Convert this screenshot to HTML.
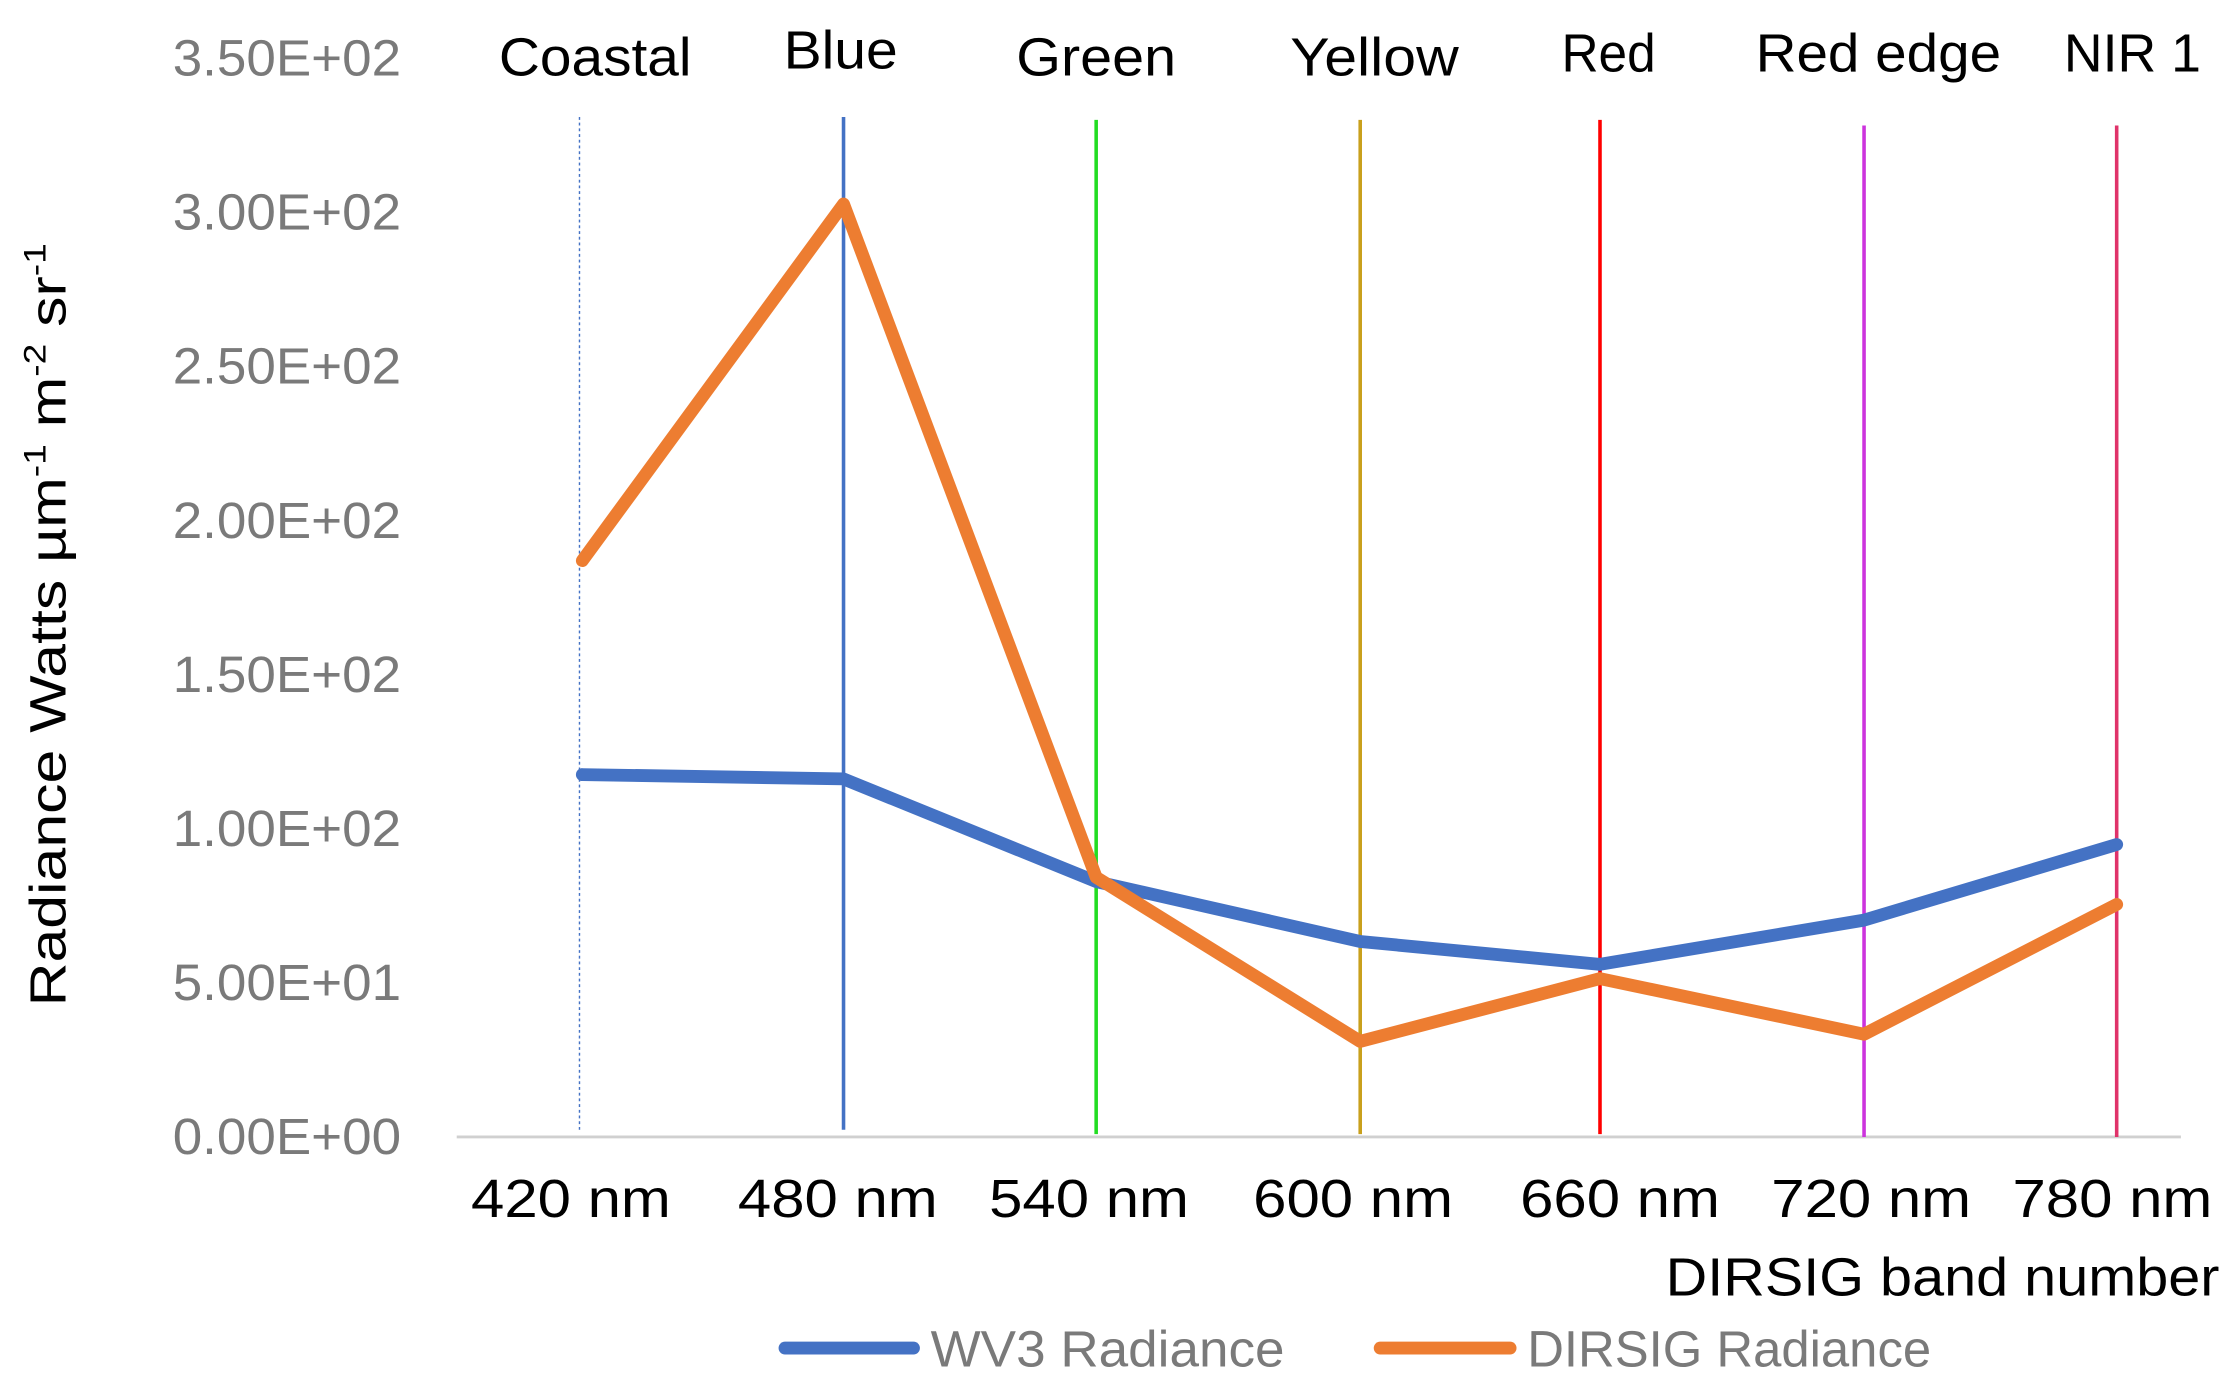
<!DOCTYPE html>
<html><head><meta charset="utf-8"><style>
html,body{margin:0;padding:0;background:#fff;}
svg{display:block;}
text{font-family:"Liberation Sans",sans-serif;}
</style></head><body>
<svg width="2238" height="1398" viewBox="0 0 1568 980" preserveAspectRatio="none" xmlns="http://www.w3.org/2000/svg">
<rect width="1568" height="980" fill="#fff"/>
<!-- y tick labels -->
<g fill="#7a7a7a" font-size="36" text-anchor="end">
<text x="281" y="53" textLength="160" lengthAdjust="spacingAndGlyphs">3.50E+02</text>
<text x="281" y="161" textLength="160" lengthAdjust="spacingAndGlyphs">3.00E+02</text>
<text x="281" y="269" textLength="160" lengthAdjust="spacingAndGlyphs">2.50E+02</text>
<text x="281" y="377" textLength="160" lengthAdjust="spacingAndGlyphs">2.00E+02</text>
<text x="281" y="485" textLength="160" lengthAdjust="spacingAndGlyphs">1.50E+02</text>
<text x="281" y="593" textLength="160" lengthAdjust="spacingAndGlyphs">1.00E+02</text>
<text x="281" y="701" textLength="160" lengthAdjust="spacingAndGlyphs">5.00E+01</text>
<text x="281" y="809" textLength="160" lengthAdjust="spacingAndGlyphs">0.00E+00</text>
</g>
<!-- y title -->
<text transform="translate(46,438) rotate(-90)" font-size="36" fill="#000" text-anchor="middle" textLength="535" lengthAdjust="spacingAndGlyphs">Radiance  Watts µm<tspan font-size="22" dy="-14">-1</tspan><tspan dy="14"> m</tspan><tspan font-size="22" dy="-14">-2</tspan><tspan dy="14"> sr</tspan><tspan font-size="22" dy="-14">-1</tspan></text>
<!-- baseline -->
<line x1="320" y1="797" x2="1528" y2="797" stroke="#d0d0d0" stroke-width="2"/>
<!-- band lines -->
<line x1="406" y1="82" x2="406" y2="792" stroke="#4472c4" stroke-width="1" stroke-dasharray="2,2"/>
<line x1="591" y1="82" x2="591" y2="792" stroke="#4472c4" stroke-width="2.5"/>
<line x1="768" y1="84" x2="768" y2="795" stroke="#22dd22" stroke-width="2.5"/>
<line x1="953" y1="84" x2="953" y2="795" stroke="#c9a01c" stroke-width="2.5"/>
<line x1="1121" y1="84" x2="1121" y2="795" stroke="#ff0000" stroke-width="2.5"/>
<line x1="1306" y1="88" x2="1306" y2="797" stroke="#cc33dd" stroke-width="2.5"/>
<line x1="1483" y1="88" x2="1483" y2="797" stroke="#e0336a" stroke-width="2.5"/>
<!-- series -->
<polyline fill="none" stroke="#4472c4" stroke-width="9" stroke-linejoin="round" stroke-linecap="round" points="408,543 591,546 768,618 953,660 1121,676 1306,645 1483,592"/>
<polyline fill="none" stroke="#ed7d31" stroke-width="9" stroke-linejoin="round" stroke-linecap="round" points="408,393 591,143 768,615 953,730 1121,686 1306,725 1483,634"/>
<!-- top labels -->
<g fill="#000" font-size="38" text-anchor="middle">
<text x="417" y="53" textLength="135" lengthAdjust="spacingAndGlyphs">Coastal</text>
<text x="589" y="48" textLength="80" lengthAdjust="spacingAndGlyphs">Blue</text>
<text x="768" y="53" textLength="112" lengthAdjust="spacingAndGlyphs">Green</text>
<text x="963" y="53" textLength="118" lengthAdjust="spacingAndGlyphs">Yellow</text>
<text x="1127" y="50" textLength="66" lengthAdjust="spacingAndGlyphs">Red</text>
<text x="1316" y="50" textLength="172" lengthAdjust="spacingAndGlyphs">Red edge</text>
<text x="1494" y="50" textLength="96" lengthAdjust="spacingAndGlyphs">NIR 1</text>
</g>
<!-- x labels -->
<g fill="#000" font-size="38" text-anchor="middle">
<text x="400" y="853" textLength="140" lengthAdjust="spacingAndGlyphs">420 nm</text>
<text x="587" y="853" textLength="140" lengthAdjust="spacingAndGlyphs">480 nm</text>
<text x="763" y="853" textLength="140" lengthAdjust="spacingAndGlyphs">540 nm</text>
<text x="948" y="853" textLength="140" lengthAdjust="spacingAndGlyphs">600 nm</text>
<text x="1135" y="853" textLength="140" lengthAdjust="spacingAndGlyphs">660 nm</text>
<text x="1311" y="853" textLength="140" lengthAdjust="spacingAndGlyphs">720 nm</text>
<text x="1480" y="853" textLength="140" lengthAdjust="spacingAndGlyphs">780 nm</text>
<text x="1555" y="908" text-anchor="end" textLength="388" lengthAdjust="spacingAndGlyphs">DIRSIG band number</text>
</g>
<!-- legend -->
<line x1="550" y1="945" x2="640" y2="945" stroke="#4472c4" stroke-width="9" stroke-linecap="round"/>
<text x="652" y="958" font-size="36" fill="#7a7a7a" textLength="248" lengthAdjust="spacingAndGlyphs">WV3 Radiance</text>
<line x1="967" y1="945" x2="1058" y2="945" stroke="#ed7d31" stroke-width="9" stroke-linecap="round"/>
<text x="1070" y="958" font-size="36" fill="#7a7a7a" textLength="283" lengthAdjust="spacingAndGlyphs">DIRSIG Radiance</text>
</svg>
</body></html>
